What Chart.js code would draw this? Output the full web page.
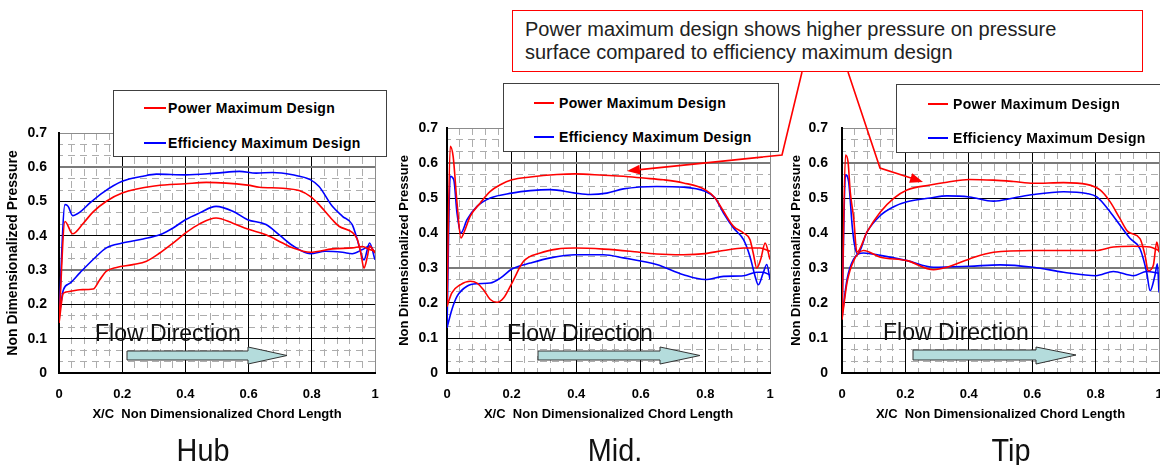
<!DOCTYPE html>
<html>
<head>
<meta charset="utf-8">
<script src="https://cdn.jsdelivr.net/npm/chart.js@4"></script>
<style>
body { margin: 0; width: 1160px; height: 465px; background: #fff; position: relative; overflow: hidden;
       font-family: "Liberation Sans", Arial, sans-serif; color: #000; }
canvas { position: absolute; }
.legend { position: absolute; background: #fff; border: 1px solid #404040; box-sizing: border-box; }
.legend .row { position: absolute; white-space: nowrap; font-weight: bold; font-size: 14px; letter-spacing: 0.3px; line-height: 16px; }
.legend .row b { position: absolute; display: block; height: 2px; top: 7px; left: 0; }
.flow { position: absolute; font-size: 23px; line-height: 26px; color: #111; white-space: nowrap; }
.name { position: absolute; font-size: 32px; line-height: 36px; color: #111; transform: translateX(-50%) scaleX(0.9); }
.note { position: absolute; left: 512px; top: 10px; width: 631px; height: 62px; box-sizing: border-box;
        border: 1.5px solid #ff0000; padding: 7px 0 0 12px; font-size: 20px; line-height: 23px; color: #222; background: #fff; }
svg { position: absolute; left: 0; top: 0; }
</style>
</head>
<body>
<canvas id="hub" width="390" height="328" style="left:0px;top:100px"></canvas>
<canvas id="mid" width="390" height="328" style="left:390px;top:100px"></canvas>
<canvas id="tip" width="380" height="328" style="left:780px;top:100px"></canvas>

<div class="legend" style="left:113px;top:90px;width:274px;height:67px">
  <div class="row" style="left:30px;top:9px"><b style="width:22px;background:#ff0000"></b><span style="margin-left:24px">Power Maximum Design</span></div>
  <div class="row" style="left:30px;top:44px"><b style="width:22px;background:#0000ff"></b><span style="margin-left:24px">Efficiency Maximum Design</span></div>
</div>
<div class="legend" style="left:503px;top:83px;width:276px;height:69px">
  <div class="row" style="left:30px;top:11px"><b style="width:20px;background:#ff0000"></b><span style="margin-left:25px">Power Maximum Design</span></div>
  <div class="row" style="left:30px;top:45px"><b style="width:20px;background:#0000ff"></b><span style="margin-left:25px">Efficiency Maximum Design</span></div>
</div>
<div class="legend" style="left:896px;top:84px;width:275px;height:69px">
  <div class="row" style="left:31px;top:11px"><b style="width:20px;background:#ff0000"></b><span style="margin-left:25px">Power Maximum Design</span></div>
  <div class="row" style="left:31px;top:45px"><b style="width:20px;background:#0000ff"></b><span style="margin-left:25px">Efficiency Maximum Design</span></div>
</div>

<div class="flow" style="left:95px;top:320px">Flow Direction</div>
<div class="flow" style="left:507px;top:320px">Flow Direction</div>
<div class="flow" style="left:883px;top:319px">Flow Direction</div>

<svg width="1160" height="465">
  <polygon points="127,351 248,351 248,347 287,355.5 248,364 248,360 127,360" fill="#b4dcdc" stroke="#333" stroke-width="1"/>
  <polygon points="538,351 660,351 660,347 700,355.5 660,364 660,360 538,360" fill="#b4dcdc" stroke="#333" stroke-width="1"/>
  <polygon points="913,350 1036,350 1036,347 1076,355 1036,364 1036,360 913,360" fill="#b4dcdc" stroke="#333" stroke-width="1"/>
</svg>

<div class="name" style="left:203px;top:432px">Hub</div>
<div class="name" style="left:615px;top:432px">Mid.</div>
<div class="name" style="left:1011px;top:432px">Tip</div>

<div class="note">Power maximum design shows higher pressure on pressure<br>surface compared to efficiency maximum design</div>
<svg width="1160" height="465">
  <polyline points="802,72 782,155 640,169.6" fill="none" stroke="#ff0000" stroke-width="1.6"/>
  <polygon points="627,171 639.4,164.7 640.4,174.6" fill="#ff0000"/>
  <polyline points="848,72 880,168 911,178" fill="none" stroke="#ff0000" stroke-width="1.6"/>
  <polygon points="923,182 909.1,182.8 912.2,173.2" fill="#ff0000"/>
</svg>

<script>
var xTicks = [0, 0.2, 0.4, 0.6, 0.8, 1];
var yTicks = [0, 0.1, 0.2, 0.3, 0.4, 0.5, 0.6, 0.7];

// Hub
var hubPowerUpper = [[0,0.146],[0.019,0.442],[0.043,0.406],[0.077,0.437],[0.108,0.47],[0.15,0.501],[0.2,0.525],[0.308,0.546],[0.4,0.552],[0.466,0.556],[0.597,0.548],[0.634,0.542],[0.708,0.539],[0.76,0.532],[0.795,0.515],[0.823,0.491],[0.865,0.447],[0.886,0.428],[0.928,0.41],[0.944,0.39],[0.955,0.35],[0.965,0.306],[0.976,0.34],[0.983,0.37],[1,0.35]];
var hubPowerLower = [[0,0.146],[0.014,0.233],[0.035,0.238],[0.066,0.243],[0.108,0.245],[0.129,0.272],[0.15,0.297],[0.182,0.308],[0.234,0.316],[0.277,0.326],[0.319,0.35],[0.361,0.379],[0.403,0.41],[0.445,0.435],[0.497,0.452],[0.55,0.437],[0.597,0.42],[0.655,0.403],[0.708,0.379],[0.739,0.365],[0.795,0.352],[0.865,0.362],[0.928,0.365],[0.96,0.369],[0.983,0.36],[1,0.355]];
var hubEffUpper = [[0,0.165],[0.019,0.491],[0.029,0.486],[0.043,0.459],[0.066,0.469],[0.098,0.496],[0.14,0.527],[0.2,0.559],[0.266,0.574],[0.308,0.58],[0.4,0.578],[0.497,0.583],[0.571,0.588],[0.624,0.583],[0.676,0.585],[0.739,0.578],[0.795,0.564],[0.823,0.544],[0.865,0.486],[0.897,0.457],[0.928,0.433],[0.944,0.389],[0.965,0.33],[0.983,0.379],[1,0.33]];
var hubEffLower = [[0,0.165],[0.014,0.243],[0.035,0.262],[0.066,0.292],[0.108,0.331],[0.15,0.365],[0.2,0.379],[0.266,0.391],[0.319,0.403],[0.361,0.423],[0.4,0.447],[0.445,0.467],[0.497,0.486],[0.55,0.472],[0.597,0.447],[0.655,0.433],[0.697,0.403],[0.739,0.372],[0.795,0.348],[0.844,0.355],[0.897,0.352],[0.928,0.348],[0.96,0.36],[0.983,0.37],[1,0.35]];

// Mid.
var midPowerUpper = [[0,0.19],[0.01,0.648],[0.019,0.619],[0.031,0.486],[0.043,0.386],[0.054,0.405],[0.072,0.448],[0.103,0.486],[0.134,0.519],[0.165,0.538],[0.201,0.552],[0.258,0.56],[0.34,0.567],[0.397,0.569],[0.485,0.565],[0.546,0.562],[0.608,0.557],[0.67,0.552],[0.732,0.543],[0.799,0.524],[0.83,0.5],[0.856,0.462],[0.887,0.419],[0.918,0.4],[0.938,0.381],[0.948,0.343],[0.959,0.3],[0.971,0.324],[0.985,0.371],[1,0.324]];
var midPowerLower = [[0,0.19],[0.015,0.229],[0.041,0.252],[0.072,0.262],[0.093,0.257],[0.113,0.238],[0.134,0.21],[0.155,0.202],[0.175,0.214],[0.201,0.257],[0.237,0.319],[0.289,0.343],[0.34,0.354],[0.397,0.357],[0.485,0.354],[0.567,0.348],[0.649,0.34],[0.732,0.338],[0.799,0.341],[0.856,0.35],[0.918,0.357],[0.969,0.357],[1,0.348]];
var midEffUpper = [[0,0.129],[0.01,0.562],[0.021,0.552],[0.031,0.457],[0.043,0.4],[0.062,0.438],[0.093,0.476],[0.134,0.5],[0.201,0.514],[0.258,0.521],[0.32,0.524],[0.397,0.514],[0.443,0.51],[0.495,0.514],[0.546,0.526],[0.649,0.533],[0.732,0.531],[0.799,0.519],[0.83,0.5],[0.856,0.457],[0.887,0.414],[0.918,0.381],[0.938,0.333],[0.954,0.276],[0.964,0.252],[0.979,0.286],[0.99,0.31],[1,0.267]];
var midEffLower = [[0,0.129],[0.015,0.181],[0.031,0.219],[0.062,0.248],[0.093,0.255],[0.134,0.257],[0.165,0.271],[0.201,0.297],[0.258,0.314],[0.32,0.329],[0.397,0.338],[0.485,0.338],[0.546,0.329],[0.649,0.31],[0.732,0.281],[0.799,0.267],[0.856,0.276],[0.918,0.278],[0.959,0.288],[0.979,0.288],[1,0.28]];

// Tip
var tipPowerUpper = [[0,0.153],[0.011,0.623],[0.019,0.604],[0.026,0.518],[0.037,0.441],[0.047,0.345],[0.079,0.403],[0.121,0.46],[0.163,0.499],[0.205,0.523],[0.278,0.537],[0.331,0.545],[0.402,0.553],[0.478,0.551],[0.541,0.547],[0.604,0.542],[0.699,0.544],[0.772,0.539],[0.814,0.523],[0.846,0.489],[0.877,0.441],[0.903,0.403],[0.94,0.384],[0.956,0.336],[0.966,0.292],[0.982,0.307],[0.993,0.374],[1,0.345]];
var tipPowerLower = [[0,0.153],[0.016,0.259],[0.037,0.321],[0.068,0.35],[0.121,0.331],[0.205,0.321],[0.289,0.295],[0.331,0.302],[0.402,0.326],[0.478,0.345],[0.604,0.35],[0.699,0.35],[0.801,0.35],[0.856,0.36],[0.919,0.362],[0.972,0.36],[1,0.35]];
var tipEffUpper = [[0,0.158],[0.011,0.566],[0.021,0.546],[0.032,0.422],[0.039,0.369],[0.049,0.34],[0.079,0.403],[0.121,0.45],[0.163,0.475],[0.205,0.489],[0.278,0.5],[0.331,0.506],[0.402,0.503],[0.478,0.491],[0.541,0.5],[0.604,0.51],[0.699,0.518],[0.772,0.513],[0.804,0.503],[0.846,0.46],[0.877,0.422],[0.909,0.384],[0.94,0.355],[0.961,0.288],[0.972,0.235],[0.987,0.278],[0.995,0.312],[1,0.23]];
var tipEffLower = [[0,0.158],[0.016,0.268],[0.037,0.326],[0.068,0.343],[0.121,0.336],[0.205,0.321],[0.289,0.302],[0.402,0.305],[0.499,0.309],[0.604,0.302],[0.699,0.288],[0.801,0.278],[0.856,0.29],[0.919,0.278],[0.961,0.29],[1,0.285]];

var FONT = "'Liberation Sans', Arial, sans-serif";
var RED = '#ff0000', BLUE = '#0000ff';

function near(a, b) { return Math.abs(a - b) < 1e-6; }

function makeChart(id, p, curves) {
    var datasets = curves.map(function (c) {
        return {
            data: c.pts.map(function (d) { return { x: d[0], y: d[1] }; }),
            borderColor: c.color,
            borderWidth: 1.6,
            pointRadius: 0,
            fill: false,
            cubicInterpolationMode: 'monotone'
        };
    });

    new Chart(document.getElementById(id), {
        type: 'line',
        data: { datasets: datasets },
        options: {
            responsive: false,
            animation: false,
            devicePixelRatio: 1,
            layout: { padding: { top: p.padTop, right: p.padRight, left: 0, bottom: 0 } },
            plugins: { legend: { display: false }, tooltip: { enabled: false } },
            scales: {
                x: {
                    type: 'linear', min: 0, max: 1,
                    afterBuildTicks: function (s) { s.ticks = xTicks.map(function (v) { return { value: v }; }); },
                    afterFit: function (s) { s.height = 55; s.paddingLeft = 0; s.paddingRight = 0; },
                    ticks: { padding: 14, color: '#000', maxRotation: 0,
                             font: { family: FONT, size: 13, weight: 'bold' },
                             callback: function (v) { return String(v); } },
                    grid: { drawTicks: false, z: -1,
                            color: function (c) { return near(c.tick.value, 1) ? '#8c8c8c' : '#000'; },
                            lineWidth: 1 },
                    border: { color: '#000', width: 2 },
                    title: { display: true, text: 'X/C  Non Dimensionalized Chord Length', color: '#000',
                             font: { family: FONT, size: 13, weight: 'bold' }, padding: { top: 0, bottom: 6 } }
                },
                y: {
                    type: 'linear', min: 0, max: 0.7,
                    afterBuildTicks: function (s) { s.ticks = yTicks.map(function (v) { return { value: v }; }); },
                    afterFit: function (s) { s.width = p.axisW; s.paddingTop = 0; s.paddingBottom = 0; },
                    ticks: { padding: p.tickPad, color: '#000',
                             font: { family: FONT, size: 14, weight: 'bold' },
                             callback: function (v) { return String(v); } },
                    grid: { drawTicks: false, z: -1,
                            color: function (c) {
                                var v = c.tick.value;
                                if (near(v, 0.3) || near(v, 0.6)) return '#7a7a7a';
                                if (near(v, 0.7)) return '#8c8c8c';
                                return '#000';
                            },
                            lineWidth: function (c) {
                                var v = c.tick.value;
                                return (near(v, 0.3) || near(v, 0.6)) ? 2 : 1;
                            } },
                    border: { color: '#000', width: 2 },
                    title: { display: true, text: 'Non Dimensionalized Pressure', color: '#000',
                             font: { family: FONT, size: p.titleSize, weight: 'bold' }, padding: { top: p.titlePad, bottom: 0 } }
                },
                // light dashed texture of the plot area
                x2: {
                    type: 'linear', position: 'bottom', min: 0, max: 1,
                    afterFit: function (s) { s.height = 0; s.paddingLeft = 0; s.paddingRight = 0; },
                    ticks: { display: false, count: 26 },
                    grid: { drawTicks: false, z: -2, color: '#adadad', lineWidth: 1 },
                    border: { display: false, dash: [7, 5] }
                },
                y2: {
                    type: 'linear', position: 'left', min: 0, max: 0.7,
                    afterFit: function (s) { s.width = 0; s.paddingTop = 0; s.paddingBottom = 0; },
                    ticks: { display: false, count: 22 },
                    grid: { drawTicks: false, z: -2, color: '#adadad', lineWidth: 1 },
                    border: { display: false, dash: [7, 5], dashOffset: 3 }
                }
            }
        }
    });
}

makeChart('hub', { padTop: 33, padRight: 15, axisW: 59, tickPad: 12, titleSize: 14, titlePad: 5 }, [
    { pts: hubPowerUpper, color: RED }, { pts: hubPowerLower, color: RED },
    { pts: hubEffUpper, color: BLUE }, { pts: hubEffLower, color: BLUE }
]);
makeChart('mid', { padTop: 28, padRight: 10, axisW: 57, tickPad: 9, titleSize: 13, titlePad: 7 }, [
    { pts: midPowerUpper, color: RED }, { pts: midPowerLower, color: RED },
    { pts: midEffUpper, color: BLUE }, { pts: midEffLower, color: BLUE }
]);
makeChart('tip', { padTop: 28, padRight: 1, axisW: 62, tickPad: 14, titleSize: 13, titlePad: 9 }, [
    { pts: tipPowerUpper, color: RED }, { pts: tipPowerLower, color: RED },
    { pts: tipEffUpper, color: BLUE }, { pts: tipEffLower, color: BLUE }
]);
</script>
</body>
</html>
